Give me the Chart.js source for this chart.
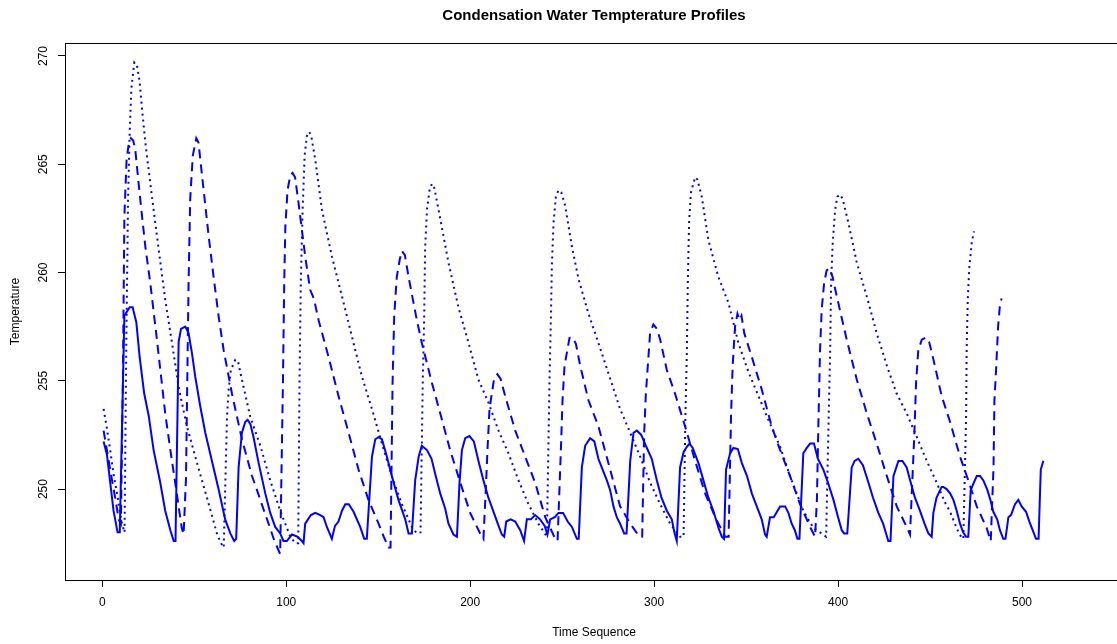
<!DOCTYPE html>
<html lang="en">
<head>
<meta charset="UTF-8">
<title>Condensation Water Tempterature Profiles</title>
<script src="https://cdn.jsdelivr.net/npm/chart.js"></script>
<style>
    html, body { margin: 0; padding: 0; background: #fff; overflow: hidden; }
    #quadro { width: 1117px; height: 644px; overflow: hidden; }
</style>
</head>
<body>
<div id="quadro"><canvas id="grafico" width="1188" height="644"></canvas></div>
<script>
// valores (x = sequencia, y = temperatura)
const solidX = [0.7,2.5,6.1,8.3,9.5,12,14.9,16.5,18.5,20.3,22.8,25.2,27.9,31.5,34.2,37,38.8,39.8,41.5,42.8,45.1,46.9,48.7,50.5,53.3,56,59.6,63.2,66.8,69.6,71.7,72.8,74.1,75.9,77.7,79,80.5,82.2,85,88.6,91.3,94,96.7,98.5,100.3,103.1,106,108.5,109.4,110.3,113.4,115.8,118.5,120.3,122.1,124.8,126.5,128.4,130.3,132.1,134,136.6,140.2,142.4,143.8,146.6,148.4,150.2,152,154.7,157.4,161,164.7,166.5,168.3,170.1,172,173.7,176.5,179,181,183.7,186.4,188.2,190.9,192.8,194.2,195.5,197.3,199.6,202,204.5,207.2,209.9,212.7,215,217.2,218.5,219.6,222,224.5,227.2,229.3,230.8,233,235.3,238,240.5,242,243.5,246,248,250.5,253,255.3,258,259,260.7,262.5,265.2,267.5,269.7,272,274.3,276.1,277.9,279.7,281.5,283.7,285,287,288.8,290.6,293,295.5,298.7,301.5,304,306.9,309.6,311,312.3,314.1,316,317.8,319.2,321,324.1,326.8,329.5,332.2,335,336.8,338,339.1,341.3,343.1,345.5,347.7,350.5,353.1,355.8,358.5,360.3,361.2,363,365,368.5,371.2,373,374.8,376.5,377.9,379,381.1,383,384.8,386.9,389,392,394.5,397.5,400,402,403.3,405,407.4,409,411,413.5,416.5,419,421.9,424.5,427.3,428.5,430.1,432.8,435,437.3,439.5,441.8,444.5,447,449.1,450.9,451.8,453.5,456.3,457.2,459,460.9,462.7,464.5,466.3,468,469.6,470.8,472.1,473.8,475.4,477.2,479,481.2,482.8,484.4,486.5,488,489.8,491,492.6,494,496.2,498,499.8,502.2,504,505.8,507.6,509,510.2,511.6];
const solidY = [252.2,251.6,249.0,248.0,248.0,258.0,258.4,258.4,257.7,256.1,254.4,253.4,251.8,250.3,249.0,248.1,247.6,247.6,256.8,257.4,257.5,257.2,256.3,255.2,253.8,252.6,251.3,250.0,248.6,247.95,247.6,247.7,251.0,252.6,253.1,253.2,253.0,252.4,251.2,249.8,248.9,248.25,247.95,247.6,247.6,247.9,247.8,247.6,247.5,248.4,248.8,248.9,248.8,248.7,248.25,247.7,248.3,248.5,249.0,249.3,249.3,248.95,248.25,247.7,247.7,251.5,252.3,252.4,252.3,251.5,250.6,249.5,248.6,247.95,247.95,250.4,251.5,252.0,251.8,251.4,250.7,249.8,249.1,248.4,247.9,247.8,250.3,251.8,252.35,252.45,252.2,251.3,250.4,249.6,248.95,248.4,247.9,247.8,248.5,248.6,248.5,248.1,247.6,248.6,248.6,248.8,248.6,248.3,247.9,248.6,248.7,248.9,248.9,248.5,248.25,247.7,247.7,251.0,252.0,252.35,252.2,251.4,250.9,250.4,249.95,249.2,248.7,248.4,247.95,247.95,251.3,252.6,252.7,252.5,252.0,251.4,250.4,249.6,249.0,248.6,248.0,247.6,251.0,251.7,251.95,252.1,251.9,251.2,250.4,249.6,249.0,248.2,247.8,247.7,250.9,251.65,251.9,251.85,251.2,250.6,249.8,249.2,248.6,247.9,247.8,248.7,248.7,249.2,249.2,248.9,248.4,248.1,247.7,247.7,251.65,251.9,252.1,252.1,251.4,250.9,250.3,249.5,248.7,248.1,247.95,247.95,251.0,251.3,251.4,251.1,250.3,249.6,248.9,248.4,247.6,247.6,250.6,251.3,251.3,251.0,250.3,249.6,249.0,248.4,247.95,247.8,248.9,249.6,250.1,250.1,250.0,249.8,249.5,249.0,248.4,248.0,247.8,247.8,249.95,250.3,250.6,250.6,250.4,249.95,249.5,248.95,248.6,248.1,247.7,247.7,248.7,248.8,249.3,249.5,249.2,248.95,248.5,248.1,247.7,247.7,250.9,251.3];

const dashedX = [0.7,2.5,5.3,7.2,8.9,10.1,11.2,12,13.2,14.3,15.6,16.8,17.9,19.7,21.6,23.4,26.1,29.7,34.2,37,39.8,41.5,43.2,44.2,45.5,46.9,47.8,49.2,51.1,52.3,54.2,56,57.8,60.5,63.2,66,70.5,75.9,81.4,84.1,87.5,90.4,93.6,96.7,98.2,98.9,99.5,100.7,102.2,103.4,104.8,106.7,110.3,113,115,117.6,123,128.4,133.9,139.3,144.7,150.2,153,155.6,156.7,157.8,158.7,160.1,161.7,162.9,164.5,166.5,171,173.7,179.2,183.7,189.1,194.6,200,205.4,207.2,208.5,209.4,210.5,213,214.8,216.5,219,224.5,229.9,235.3,240.8,245.7,247.5,249.3,250.2,251.3,254,255.8,257.5,259.8,264.3,269.7,276.1,281.5,287,292,293.5,294.6,295.5,297.8,299.6,301.5,303.3,306.9,311.4,316.8,322.3,327.7,333.2,338.6,340.5,341.8,342.7,344,345.3,346.5,347.5,349,353.1,358.5,363.9,368.5,373.9,379.3,384.8,387.5,388.5,389.3,390.2,391.1,392.4,393.8,395.3,397,399.3,404.7,410.2,415.6,421,426.5,431.9,437.3,439.1,441.5,442.4,443.6,445.5,447.8,449.5,451.8,456.3,460.9,466.3,470.8,475.4,480.8,483,484.5,485,485.9,487,488,488.9];
const dashedY = [252.7,251.8,250.4,249.5,248.6,248.4,255.0,262.6,265.2,265.9,266.2,266.1,265.7,264.15,262.6,261.2,259.5,256.9,253.5,251.8,250.2,249.2,248.2,247.9,250.5,259.5,263.4,265.4,266.2,266.0,264.5,263.1,261.7,259.8,258.0,256.4,254.4,252.3,250.6,249.95,249.1,248.4,247.6,247.0,254.9,259.5,262.1,263.8,264.5,264.6,264.4,263.2,260.75,259.2,258.8,257.8,256.1,254.3,252.6,250.9,249.5,248.4,247.8,247.3,247.3,254.9,258.0,259.8,260.6,261.0,260.8,259.8,257.8,256.75,254.9,253.5,251.8,250.3,248.9,247.95,247.7,250.0,251.8,253.7,255.1,255.3,255.1,254.3,252.7,251.5,250.3,248.7,247.8,247.6,251.8,254.1,255.7,256.98,257.0,256.7,255.7,254.1,252.9,250.9,249.2,248.4,247.8,247.8,252.6,254.4,257.2,257.6,257.4,256.9,255.5,254.4,252.9,251.3,249.8,248.7,247.8,247.8,253.35,255.7,257.5,258.1,257.8,258.0,257.2,256.1,254.6,252.9,251.8,250.6,249.3,248.25,247.8,249.5,253.0,256.4,258.3,259.5,260.1,260.2,259.8,258.9,256.9,255.05,253.5,252.1,250.6,249.2,248.25,247.9,252.6,254.9,256.4,256.9,257.0,256.8,256.0,254.3,253.1,251.5,250.4,249.2,248.2,247.6,251.0,254.1,255.5,257.5,258.5,258.8];

const dottedX = [0.7,2.5,4.3,6.1,8,9.5,10.7,12.1,13,14,14.9,15.8,17.4,18.8,20.3,21.6,23.4,27,30.6,34.2,37.9,41.5,46,51.5,56.9,62.3,64.5,66,67.8,68.7,69.9,72.3,73.8,75.9,80.4,85.9,91.3,96.7,102.2,104.9,106.5,107.2,107.9,108.9,110,111.2,112.5,113.6,115.8,119.4,124.8,130.3,135.7,141.1,146.6,152,157.4,162.9,168.3,171,173,174.2,175,175.5,176.5,177.9,179.2,180.5,182.8,188.2,193.6,199.1,204.5,209.9,215.4,220.8,226.3,231.7,237.1,241.7,243.1,243.9,244.4,245.3,246.6,248,249.5,251.6,255.3,258.9,264.3,269.7,276.1,281.5,287,292.4,297.8,303.3,308.7,314.1,316,317,317.8,318.3,319,320,322.3,323.5,325.9,329.5,334.9,340.4,345.8,351.3,356.7,362.1,368.5,373.9,381.1,386.6,390.2,393.5,394.9,395.7,396.2,397.1,398.4,399.6,401.1,402.5,405.6,410.2,415.6,421,426.5,431.9,437.3,442.8,448.2,453.6,458,460.9,463.5,466,468.1,469.6,469.9,470.5,471.4,472.7,473.9];
const dottedY = [253.7,252.8,251.8,250.7,249.8,249.0,248.4,248.0,256.4,263.4,266.5,268.5,269.7,269.6,268.8,267.55,266.0,263.5,261.1,258.75,256.75,254.7,252.9,251.2,249.6,247.95,247.5,247.3,253.35,254.6,255.5,255.97,255.9,255.05,253.35,252.0,250.4,249.0,247.8,247.5,247.5,254.9,259.5,262.9,265.4,266.3,266.5,266.3,265.2,262.9,260.75,258.9,257.05,255.2,253.7,252.1,250.6,249.3,248.25,247.95,248.0,254.9,258.0,261.1,262.9,263.8,264.1,263.9,262.9,260.45,258.4,256.75,255.05,254.0,252.7,251.65,250.4,249.3,248.4,247.8,254.9,258.0,260.3,262.3,263.5,263.8,263.7,263.1,261.2,259.7,258.1,256.75,255.1,253.7,252.6,251.5,250.3,249.3,248.4,247.8,247.8,253.35,256.4,259.5,262.3,263.7,264.4,264.3,263.5,261.5,259.8,258.6,256.75,255.4,254.3,253.2,251.95,250.6,249.0,248.2,248.0,247.8,253.35,256.4,259.5,261.4,262.9,263.5,263.6,263.4,262.3,260.45,258.9,257.2,255.7,254.4,253.5,252.4,251.3,250.3,249.4,248.95,248.4,247.9,247.7,253.35,256.4,258.75,260.3,261.4,261.9];

const xTicks = [0, 100, 200, 300, 400, 500];
const yTicks = [250, 255, 260, 265, 270];

const fonte = "'Liberation Sans', Arial, Helvetica, sans-serif";

function juntar(xs, ys) {
    let pts = [];
    for (var i = 0; i < xs.length; i++) {
        pts.push({ x: xs[i], y: ys[i] });
    }
    return pts;
}

// caixa em volta da area do grafico (estilo R)
const caixa = {
    id: 'caixa',
    afterDraw(chart) {
        const a = chart.chartArea;
        const ctx = chart.ctx;
        ctx.save();
        ctx.strokeStyle = '#000';
        ctx.lineWidth = 1;
        ctx.strokeRect(Math.round(a.left) + 0.5, Math.round(a.top) + 0.5, Math.round(a.right - a.left), Math.round(a.bottom - a.top));
        ctx.restore();
    }
};

const serie = (dados, dash) => ({
    data: dados,
    borderColor: '#0000ff',
    borderWidth: 2,
    borderDash: dash,
    pointRadius: 0,
    tension: 0,
    fill: false
});

new Chart(document.getElementById('grafico'), {
    type: 'line',
    data: {
        datasets: [
            serie(juntar(solidX, solidY), []),
            serie(juntar(dashedX, dashedY), [9, 6]),
            serie(juntar(dottedX, dottedY), [2, 4])
        ]
    },
    options: {
        responsive: false,
        animation: false,
        devicePixelRatio: 1,
        layout: { padding: { left: 0, right: 65, top: 0, bottom: 0 } },
        plugins: {
            legend: { display: false },
            tooltip: { enabled: false },
            title: {
                display: true,
                fullSize: false,
                text: 'Condensation Water Tempterature Profiles',
                color: '#000',
                font: { family: fonte, size: 15, weight: 'bold' },
                padding: { top: 7, bottom: 18 }
            }
        },
        scales: {
            x: {
                type: 'linear',
                min: -20.28,
                max: 554.9,
                afterBuildTicks: s => { s.ticks = xTicks.map(v => ({ value: v })); },
                afterFit: s => { s.height = 64; },
                border: { display: false },
                grid: { drawOnChartArea: false, drawTicks: true, tickLength: 7, color: '#000' },
                ticks: { color: '#000', font: { family: fonte, size: 12 }, padding: 8, maxRotation: 0, autoSkip: false },
                title: { display: true, text: 'Time Sequence', color: '#000', font: { family: fonte, size: 12 }, padding: { top: 0, bottom: 4 } }
            },
            y: {
                type: 'linear',
                min: 245.8,
                max: 270.6,
                afterBuildTicks: s => { s.ticks = yTicks.map(v => ({ value: v })); },
                afterFit: s => { s.width = 65; },
                border: { display: false },
                grid: { drawOnChartArea: false, drawTicks: true, tickLength: 7, color: '#000' },
                ticks: { color: '#000', font: { family: fonte, size: 12 }, padding: 4, minRotation: 90, maxRotation: 90, crossAlign: 'center', autoSkip: false },
                title: { display: true, text: 'Temperature', color: '#000', font: { family: fonte, size: 12 }, padding: { top: 8, bottom: 0 } }
            }
        }
    },
    plugins: [caixa]
});
</script>
</body>
</html>
